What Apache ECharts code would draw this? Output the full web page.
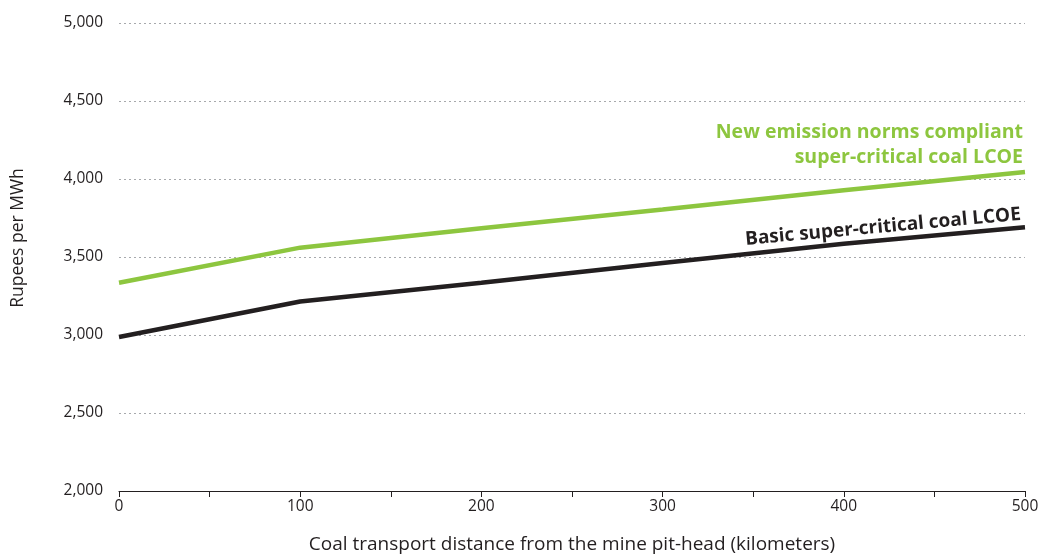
<!DOCTYPE html>
<html>
<head>
<meta charset="utf-8">
<script src="https://cdn.jsdelivr.net/npm/echarts@6/dist/echarts.min.js"></script>
<style>
  html, body { margin: 0; padding: 0; background: #fff; }
  #main { width: 1040px; height: 556px; }
</style>
</head>
<body>
<div id="main"></div>
<script>
// distance from pit-head (km)
var distances = [0, 100, 200, 300, 400, 500];
// LCOE, rupees per MWh
var basicLcoe = [2987, 3215, 3335, 3462, 3585, 3690];
var newNormsLcoe = [3335, 3560, 3685, 3805, 3928, 4045];

var yTicks = [2000, 2500, 3000, 3500, 4000, 4500, 5000];

function pairs(xs, ys) {
	return xs.map(function (x, i) { return [x, ys[i]]; });
}

var font = '"Open Sans", "Noto Sans", sans-serif';
var dark = '#231f20';
var green = '#8dc63f';

var chart = echarts.init(document.getElementById('main'));
chart.setOption({
	animation: false,
	textStyle: { fontFamily: font },
	grid: { left: 119, right: 15, top: 23, bottom: 65, outerBoundsMode: 'none' },
	xAxis: {
		type: 'value',
		min: 0,
		max: 500,
		interval: 50,
		name: 'Coal transport distance from the mine pit-head (kilometers)',
		nameLocation: 'middle',
		nameGap: 44,
		nameTextStyle: { fontSize: 19, color: dark, fontFamily: font },
		axisLine: { lineStyle: { color: dark, width: 1 } },
		axisTick: { show: true, length: 6, lineStyle: { color: dark } },
		axisLabel: {
			fontSize: 15.5, color: dark, margin: 8, fontFamily: font,
			formatter: function (v) { return v % 100 === 0 ? String(v) : ''; }
		},
		splitLine: { show: false }
	},
	yAxis: {
		type: 'value',
		min: yTicks[0],
		max: yTicks[yTicks.length - 1],
		interval: 500,
		name: 'Rupees per MWh',
		nameLocation: 'middle',
		nameGap: 92,
		nameTextStyle: { fontSize: 17.5, color: dark, fontFamily: font, padding: [0, 0, 0, 38] },
		axisLine: { show: false },
		axisTick: { show: false },
		axisLabel: {
			fontSize: 15.5, color: dark, margin: 16, fontFamily: font,
			formatter: function (v) { return v.toLocaleString('en-US'); }
		},
		splitLine: { lineStyle: { color: '#a7a9ac', type: [2, 3], width: 1 } }
	},
	series: [
		{
			name: 'New emission norms compliant super-critical coal LCOE',
			type: 'line',
			symbol: 'none',
			lineStyle: { color: green, width: 4.5 },
			data: pairs(distances, newNormsLcoe)
		},
		{
			name: 'Basic super-critical coal LCOE',
			type: 'line',
			symbol: 'none',
			lineStyle: { color: dark, width: 4.5 },
			data: pairs(distances, basicLcoe)
		}
	],
	graphic: [
		{
			type: 'text', x: 1023, y: 132,
			style: {
				text: 'New emission norms compliant',
				font: 'bold 19.5px ' + font, fill: green, align: 'right', verticalAlign: 'middle'
			}
		},
		{
			type: 'text', x: 1023, y: 157,
			style: {
				text: 'super-critical coal LCOE',
				font: 'bold 19.5px ' + font, fill: green, align: 'right', verticalAlign: 'middle'
			}
		},
		{
			type: 'text', x: 883, y: 227, rotation: 5.2 * Math.PI / 180,
			style: {
				text: 'Basic super-critical coal LCOE',
				font: 'bold 19px ' + font, fill: dark, align: 'center', verticalAlign: 'middle'
			}
		}
	]
});
</script>
</body>
</html>
